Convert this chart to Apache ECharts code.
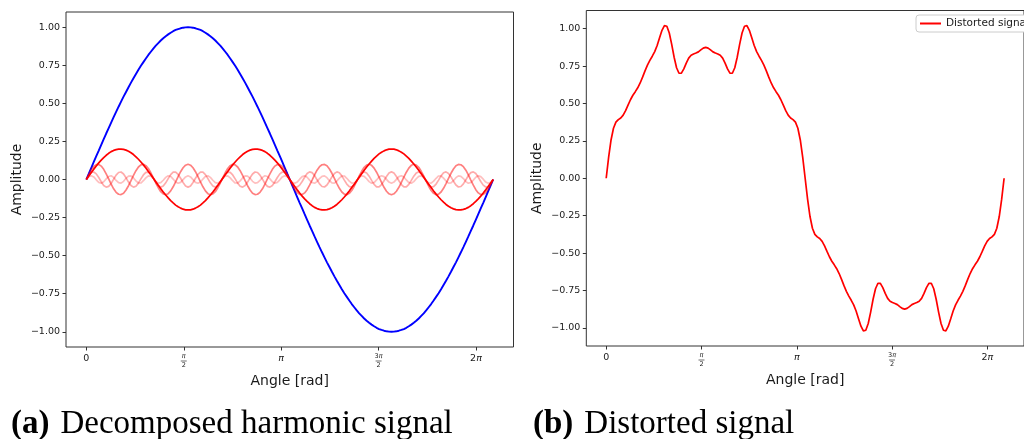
<!DOCTYPE html>
<html><head><meta charset="utf-8">
<script src="https://cdn.jsdelivr.net/npm/echarts@6/dist/echarts.min.js"></script>
<style>html,body{margin:0;padding:0;background:#fff}#c{width:1024px;height:439px}</style>
</head><body><div id="c"></div>
<script>
// Sample positions (rad)
const angle = [
0,.04,.08,.12,.16,.2,.24,.28,.32,.36,.4,.44,.48,.52,.56,.6,.64,.68,.72,.76,.8,.84,.88,.92,.96,
1,1.04,1.08,1.12,1.16,1.2,1.24,1.28,1.32,1.36,1.4,1.44,1.48,1.52,1.56,1.6,1.64,1.68,1.72,1.76,1.8,1.84,1.88,1.92,1.96,
2,2.04,2.08,2.12,2.16,2.2,2.24,2.28,2.32,2.36,2.4,2.44,2.48,2.52,2.56,2.6,2.64,2.68,2.72,2.76,2.8,2.84,2.88,2.92,2.96,
3,3.04,3.08,3.12,3.16,3.2,3.24,3.28,3.32,3.36,3.4,3.44,3.48,3.52,3.56,3.6,3.64,3.68,3.72,3.76,3.8,3.84,3.88,3.92,3.96,
4,4.04,4.08,4.12,4.16,4.2,4.24,4.28,4.32,4.36,4.4,4.44,4.48,4.52,4.56,4.6,4.64,4.68,4.72,4.76,4.8,4.84,4.88,4.92,4.96,
5,5.04,5.08,5.12,5.16,5.2,5.24,5.28,5.32,5.36,5.4,5.44,5.48,5.52,5.56,5.6,5.64,5.68,5.72,5.76,5.8,5.84,5.88,5.92,5.96,
6,6.04,6.08,6.12,6.16,6.2,6.24,6.28,6.32,6.36,6.4,6.44,6.48,6.52,6.56];

// Fundamental (blue)
const fundamental = [
0,.038,.077,.115,.153,.190,.228,.265,.302,.338,.374,.409,.444,.478,.511,.544,.575,.606,.636,.665,.693,.721,.747,.771,.795,.818,.839,.860,.879,.896,.913,.928,.941,.953,.964,.974,.982,.988,.993,.997,.999,1,
.999,.997,.993,.988,.982,.974,.964,.953,.941,.928,.913,.896,.879,.860,.839,.818,.795,.771,.747,.721,.693,.665,.636,.606,.575,.544,.511,.478,.444,.409,.374,.338,.302,.265,.228,.190,.153,.115,.077,.038,0,
-.038,-.077,-.115,-.153,-.190,-.228,-.265,-.302,-.338,-.374,-.409,-.444,-.478,-.511,-.544,-.575,-.606,-.636,-.665,-.693,-.721,-.747,-.771,-.795,-.818,-.839,-.860,-.879,-.896,-.913,-.928,-.941,-.953,-.964,-.974,-.982,-.988,-.993,-.997,-.999,-1,
-.999,-.997,-.993,-.988,-.982,-.974,-.964,-.953,-.941,-.928,-.913,-.896,-.879,-.860,-.839,-.818,-.795,-.771,-.747,-.721,-.693,-.665,-.636,-.606,-.575,-.544,-.511,-.478,-.444,-.409,-.374,-.338,-.302,-.265,-.228,-.190,-.153,-.115,-.077,-.038,0];

// Harmonics (red, fading)
const harmonic3 = [
0,.023,.046,.068,.089,.109,.127,.144,.159,.172,.183,.191,.196,.199,.200,.198,.193,.186,.176,.164,.149,.133,.115,.096,.075,.053,.031,.008,-.015,-.038,-.060,-.082,-.102,-.121,-.139,-.154,-.168,-.179,-.188,-.195,-.199,-.2,
-.199,-.195,-.188,-.179,-.168,-.154,-.139,-.121,-.102,-.082,-.060,-.038,-.015,.008,.031,.053,.075,.096,.115,.133,.149,.164,.176,.186,.193,.198,.200,.199,.196,.191,.183,.172,.159,.144,.127,.109,.089,.068,.046,.023,0,
-.023,-.046,-.068,-.089,-.109,-.127,-.144,-.159,-.172,-.183,-.191,-.196,-.199,-.200,-.198,-.193,-.186,-.176,-.164,-.149,-.133,-.115,-.096,-.075,-.053,-.031,-.008,.015,.038,.060,.082,.102,.121,.139,.154,.168,.179,.188,.195,.199,.2,
.199,.195,.188,.179,.168,.154,.139,.121,.102,.082,.060,.038,.015,-.008,-.031,-.053,-.075,-.096,-.115,-.133,-.149,-.164,-.176,-.186,-.193,-.198,-.200,-.199,-.196,-.191,-.183,-.172,-.159,-.144,-.127,-.109,-.089,-.068,-.046,-.023,0];

const harmonic9 = [
0,.034,.064,.086,.098,.099,.088,.067,.037,.004,-.030,-.061,-.084,-.097,-.099,-.090,-.069,-.041,-.008,.027,.058,.082,.096,.100,.091,.072,.044,.011,-.023,-.054,-.080,-.095,-.100,-.093,-.075,-.048,-.015,.019,.051,.077,.094,.1,
.094,.077,.051,.019,-.015,-.048,-.075,-.093,-.100,-.095,-.080,-.054,-.023,.011,.044,.072,.091,.100,.096,.082,.058,.027,-.008,-.041,-.069,-.090,-.099,-.097,-.084,-.061,-.030,.004,.037,.067,.088,.099,.098,.086,.064,.034,0,
-.034,-.064,-.086,-.098,-.099,-.088,-.067,-.037,-.004,.030,.061,.084,.097,.099,.090,.069,.041,.008,-.027,-.058,-.082,-.096,-.100,-.091,-.072,-.044,-.011,.023,.054,.080,.095,.100,.093,.075,.048,.015,-.019,-.051,-.077,-.094,-.1,
-.094,-.077,-.051,-.019,.015,.048,.075,.093,.100,.095,.080,.054,.023,-.011,-.044,-.072,-.091,-.100,-.096,-.082,-.058,-.027,.008,.041,.069,.090,.099,.097,.084,.061,.030,-.004,-.037,-.067,-.088,-.099,-.098,-.086,-.064,-.034,0];

const harmonic15 = [
0,.027,.046,.049,.037,.013,-.015,-.039,-.050,-.045,-.026,.002,.029,.046,.049,.036,.011,-.017,-.040,-.050,-.044,-.024,.004,.030,.047,.049,.035,.010,-.019,-.041,-.050,-.043,-.022,.006,.032,.048,.048,.033,.008,-.020,-.042,-.05,
-.042,-.020,.008,.033,.048,.048,.032,.006,-.022,-.043,-.050,-.041,-.019,.010,.035,.049,.047,.030,.004,-.024,-.044,-.050,-.040,-.017,.011,.036,.049,.046,.029,.002,-.026,-.045,-.050,-.039,-.015,.013,.037,.049,.046,.027,0,
-.027,-.046,-.049,-.037,-.013,.015,.039,.050,.045,.026,-.002,-.029,-.046,-.049,-.036,-.011,.017,.040,.050,.044,.024,-.004,-.030,-.047,-.049,-.035,-.010,.019,.041,.050,.043,.022,-.006,-.032,-.048,-.048,-.033,-.008,.020,.042,.05,
.042,.020,-.008,-.033,-.048,-.048,-.032,-.006,.022,.043,.050,.041,.019,-.010,-.035,-.049,-.047,-.030,-.004,.024,.044,.050,.040,.017,-.011,-.036,-.049,-.046,-.029,-.002,.026,.045,.050,.039,.015,-.013,-.037,-.049,-.046,-.027,0];

const harmonic21 = [
0,.018,.025,.017,-.002,-.019,-.025,-.015,.004,.020,.025,.014,-.006,-.021,-.024,-.012,.008,.022,.024,.010,-.009,-.023,-.023,-.008,.011,.024,.022,.007,-.013,-.024,-.021,-.005,.014,.025,.020,.003,-.016,-.025,-.019,-.001,.017,.025,
.017,-.001,-.019,-.025,-.016,.003,.020,.025,.014,-.005,-.021,-.024,-.013,.007,.022,.024,.011,-.008,-.023,-.023,-.009,.010,.024,.022,.008,-.012,-.024,-.021,-.006,.014,.025,.020,.004,-.015,-.025,-.019,-.002,.017,.025,.018,0,
-.018,-.025,-.017,.002,.019,.025,.015,-.004,-.020,-.025,-.014,.006,.021,.024,.012,-.008,-.022,-.024,-.010,.009,.023,.023,.008,-.011,-.024,-.022,-.007,.013,.024,.021,.005,-.014,-.025,-.020,-.003,.016,.025,.019,.001,-.017,-.025,
-.017,.001,.019,.025,.016,-.003,-.020,-.025,-.014,.005,.021,.024,.013,-.007,-.022,-.024,-.011,.008,.023,.023,.009,-.010,-.024,-.022,-.008,.012,.024,.021,.006,-.014,-.025,-.020,-.004,.015,.025,.019,.002,-.017,-.025,-.018,0];

// Distorted signal (right panel)
const distorted = [
0,.140,.256,.334,.375,.392,.403,.422,.452,.489,.525,.555,.579,.605,.637,.676,.718,.756,.788,.816,.847,.888,.939,.989,1.020,1.016,.971,.895,.809,.739,.702,.703,.731,.770,.803,.822,.831,.837,.845,.858,.870,.875,
.870,.858,.845,.837,.831,.822,.803,.770,.731,.703,.702,.739,.809,.895,.971,1.016,1.020,.989,.939,.888,.847,.816,.788,.756,.718,.676,.637,.605,.579,.555,.525,.489,.452,.422,.403,.392,.375,.334,.256,.140,0,
-.140,-.256,-.334,-.375,-.392,-.403,-.422,-.452,-.489,-.525,-.555,-.579,-.605,-.637,-.676,-.718,-.756,-.788,-.816,-.847,-.888,-.939,-.989,-1.020,-1.016,-.971,-.895,-.809,-.739,-.702,-.703,-.731,-.770,-.803,-.822,-.831,-.837,-.845,-.858,-.870,-.875,
-.870,-.858,-.845,-.837,-.831,-.822,-.803,-.770,-.731,-.703,-.702,-.739,-.809,-.895,-.971,-1.016,-1.020,-.989,-.939,-.888,-.847,-.816,-.788,-.756,-.718,-.676,-.637,-.605,-.579,-.555,-.525,-.489,-.452,-.422,-.403,-.392,-.375,-.334,-.256,-.140,0];

const angleTickValues = [0, 1.5708, 3.1416, 4.7124, 6.2832];
const angleTickLabels = [['0'], ['π', '2'], ['π'], ['3π', '2'], ['2π']];
const amplitudeTicks = [-1, -0.75, -0.5, -0.25, 0, 0.25, 0.5, 0.75, 1];
const harmonicNames = ['3rd harmonic', '9th harmonic', '15th harmonic', '21st harmonic'];
const panelTitles = [['(a)', 'Decomposed harmonic signal'], ['(b)', 'Distorted signal']];

const TXT = '#1a1a1a';
function piRich(s, base, pi) {
  return s.split('π').map(p => p ? '{' + base + '|' + p + '}' : '').join('{' + pi + '|π}');
}
function angleLabel(v) {
  let idx = 0, best = 1e9;
  angleTickValues.forEach((t, i) => { const d = Math.abs(t - v); if (d < best) { best = d; idx = i; } });
  const lab = angleTickLabels[idx];
  if (lab.length === 1) return piRich(lab[0], 't', 'tp');
  return piRich(lab[0], 'n', 'np') + '\n{bar| }\n{d|' + lab[1] + '}';
}
function ampLabel(v) { return (v < 0 ? '\u2212' : '') + Math.abs(v).toFixed(2); }

const richX = {
  t: {fontSize: 9.5, fontFamily: 'DejaVu Sans', color: TXT, lineHeight: 11},
  tp: {fontSize: 9.5, fontFamily: 'DejaVu Sans', fontStyle: 'italic', color: TXT, lineHeight: 11},
  n: {fontSize: 6.5, fontFamily: 'DejaVu Sans', color: TXT, lineHeight: 7},
  np: {fontSize: 6.5, fontFamily: 'DejaVu Sans', fontStyle: 'italic', color: TXT, lineHeight: 7},
  bar: {width: 6, height: 0.7, lineHeight: 2, fontSize: 1, backgroundColor: '#333'},
  d: {fontSize: 6.5, fontFamily: 'DejaVu Sans', color: TXT, lineHeight: 7}
};

function xAxisCfg(gi) {
  return {
    type: 'value', gridIndex: gi, min: -0.328, max: 6.888,
    name: 'Angle [rad]', nameLocation: 'middle', nameGap: 27,
    nameTextStyle: {fontFamily: 'DejaVu Sans', fontSize: 14, color: TXT},
    axisLine: {show: false, onZero: false}, splitLine: {show: false},
    axisTick: {show: true, customValues: angleTickValues, length: 3.5, lineStyle: {color: '#333', width: 1}},
    axisLabel: {customValues: angleTickValues, formatter: angleLabel, rich: richX, margin: 6, color: TXT}
  };
}
function yAxisCfg(gi, lim) {
  return {
    type: 'value', gridIndex: gi, min: -lim, max: lim,
    name: 'Amplitude', nameLocation: 'middle', nameGap: 42,
    nameTextStyle: {fontFamily: 'DejaVu Sans', fontSize: 14, color: TXT},
    axisLine: {show: false, onZero: false}, splitLine: {show: false},
    axisTick: {show: true, customValues: amplitudeTicks, length: 3.5, lineStyle: {color: '#333', width: 1}},
    axisLabel: {customValues: amplitudeTicks, formatter: ampLabel, margin: 6, fontSize: 9.5, fontFamily: 'DejaVu Sans', color: TXT}
  };
}
const pairs = arr => angle.map((x, i) => [x, arr[i]]);
function line(name, arr, color, opacity, gi, w) {
  return {type: 'line', name, xAxisIndex: gi, yAxisIndex: gi, data: pairs(arr), showSymbol: false, symbol: 'none',
    lineStyle: {color, opacity, width: w}, itemStyle: {color}, clip: true};
}
function titleCfg(k, left) {
  return {text: '{b|' + panelTitles[k][0] + '}{s| }{n|' + panelTitles[k][1] + '}', left, top: 403,
    textStyle: {fontWeight: 'normal', fontFamily: 'Liberation Serif', fontSize: 33, color: '#000', rich: {
      b: {fontFamily: 'Liberation Serif', fontWeight: 'bold', fontSize: 33, color: '#000'},
      s: {fontFamily: 'Liberation Serif', fontWeight: 'normal', fontSize: 33, width: 11},
      n: {fontFamily: 'Liberation Serif', fontWeight: 'normal', fontSize: 33, color: '#000'}}}};
}

const chart = echarts.init(document.getElementById('c'), null, {renderer: 'canvas'});
chart.setOption({
  animation: false,
  backgroundColor: '#fff',
  title: [titleCfg(0, 6), titleCfg(1, 528)],
  legend: {data: ['Distorted signal'], left: 916, top: 15, icon: 'rect', itemWidth: 21, itemHeight: 2,
    padding: [3, 4], itemGap: 5, borderColor: '#ccc', borderWidth: 1, borderRadius: 3, backgroundColor: '#fff',
    textStyle: {fontFamily: 'DejaVu Sans', fontSize: 10.5, color: TXT}},
  grid: [
    {left: 66, top: 12, width: 447.5, height: 335, show: true, borderColor: '#333', borderWidth: 1, backgroundColor: 'transparent'},
    {left: 586.3, top: 10.5, width: 448.6, height: 335.5, show: true, borderColor: '#333', borderWidth: 1, backgroundColor: 'transparent'}
  ],
  xAxis: [xAxisCfg(0), xAxisCfg(1)],
  yAxis: [yAxisCfg(0, 1.1), yAxisCfg(1, 1.1216)],
  series: [
    line('Fundamental', fundamental, '#0000ff', 1, 0, 1.9),
    line(harmonicNames[0], harmonic3, '#ff0000', 1, 0, 1.7),
    line(harmonicNames[1], harmonic9, '#ff0000', 0.5, 0, 1.7),
    line(harmonicNames[2], harmonic15, '#ff0000', 0.33, 0, 1.7),
    line(harmonicNames[3], harmonic21, '#ff0000', 0.25, 0, 1.7),
    line('Distorted signal', distorted, '#ff0000', 1, 1, 1.7)
  ]
});
</script>
</body></html>
